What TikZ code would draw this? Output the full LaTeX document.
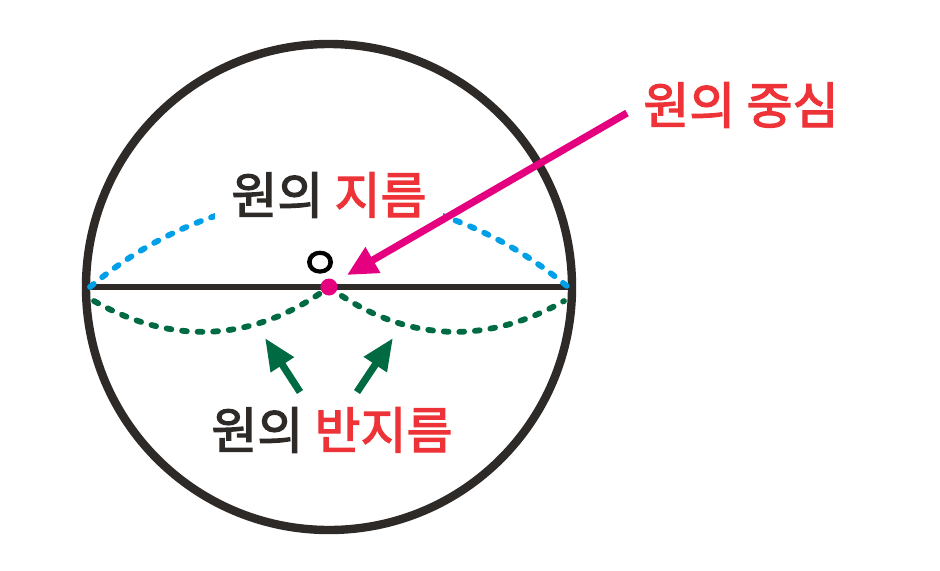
\documentclass[tikz,border=0pt]{standalone}
\usepackage{fontspec}
\newfontfamily\kor{Noto Sans CJK KR}[FakeBold=2.5]
\usetikzlibrary{arrows.meta}
\definecolor{ink}{HTML}{2E2A28}
\definecolor{hl}{HTML}{EE3338}
\definecolor{mag}{HTML}{E4007F}
\definecolor{grn}{HTML}{006B42}
\definecolor{sky}{HTML}{00A0E9}

\begin{document}
\begin{tikzpicture}[x=0.5pt,y=0.5pt,
  word/.style={font=\kor\fontsize{25pt}{30pt}\selectfont,text=ink,fill=white,inner xsep=8pt,inner ysep=2pt},
  dots/.style={line width=2.9pt,line cap=round,dash pattern=on 2.4pt off 5.4pt},
  pointer/.style={line width=3.6pt,-{Triangle[length=15pt,width=14pt]}}]

  \useasboundingbox (0,0) rectangle (940,570);

  \coordinate (o) at (329,283);
  \coordinate (l) at (86,283);
  \coordinate (r) at (572,283);

  \draw[ink,line width=4.2pt] (o) circle[radius=243];
  \draw[ink,line width=3pt] (l) -- (r);

  % diameter arc and its label
  \draw[dots,sky] ([xshift=2]l) to[bend left=40] ([xshift=-2]r);
  \node[word] (diam) at (329,375) {원의 \textcolor{hl}{지름}};

  % two radii
  \draw[dots,grn] ([xshift=4,yshift=-7]l) to[bend right=33] (o);
  \draw[dots,grn] (o) to[bend right=33] ([xshift=-4,yshift=-7]r);

  \node[word] (rad) at (332,140) {원의 \textcolor{hl}{반지름}};
  \coordinate (gl) at (300,178);
  \coordinate (gr) at (357,178);
  \coordinate (gltip) at (265,232);
  \coordinate (grtip) at (393,232);
  \draw[pointer,grn,-{Triangle[length=16pt,width=13pt]}] (gl) -- (gltip);
  \draw[pointer,grn,-{Triangle[length=16pt,width=13pt]}] (gr) -- (grtip);

  % centre
  \node[word,text=hl] (ctr) at (741,465) {원의 중심};
  \coordinate (ctip) at (347,295);
  \draw[pointer,mag] ([yshift=-4]ctr.west) -- (ctip);

  \fill[mag] (o) circle[radius=8.5];
  \node[font=\kor\fontsize{22pt}{24pt}\selectfont,text=black,inner sep=0pt] (oname) at (320,305) {ㅇ};
\end{tikzpicture}
\end{document}
